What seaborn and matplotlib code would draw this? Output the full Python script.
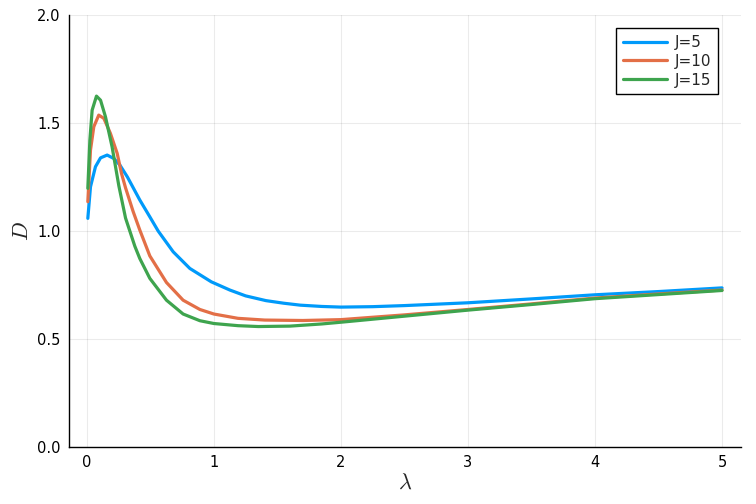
import matplotlib
matplotlib.use("Agg")
import matplotlib.pyplot as plt
import seaborn as sns
import pandas as pd

x_j5 = [0.008, 0.029, 0.068, 0.108, 0.16, 0.213, 0.26, 0.32, 0.417, 0.496, 0.562, 0.68, 0.811, 0.98, 1.126, 1.25, 1.41, 1.55, 1.68, 1.85, 2.0, 2.25, 2.5, 3.0, 3.5, 4.0, 4.5, 5.0]
y_j5 = [1.059, 1.205, 1.298, 1.339, 1.352, 1.336, 1.306, 1.25, 1.144, 1.066, 1.0, 0.904, 0.827, 0.765, 0.727, 0.700, 0.678, 0.666, 0.657, 0.651, 0.648, 0.650, 0.655, 0.668, 0.686, 0.705, 0.720, 0.737]

x_j10 = [0.008, 0.029, 0.055, 0.094, 0.134, 0.186, 0.239, 0.273, 0.305, 0.365, 0.417, 0.496, 0.627, 0.758, 0.89, 1.0, 1.19, 1.4, 1.7, 2.0, 2.5, 3.0, 3.5, 4.0, 4.5, 5.0]
y_j10 = [1.136, 1.375, 1.483, 1.537, 1.522, 1.452, 1.36, 1.267, 1.20, 1.09, 1.005, 0.885, 0.762, 0.680, 0.637, 0.616, 0.596, 0.588, 0.586, 0.590, 0.612, 0.637, 0.663, 0.690, 0.709, 0.727]

x_j15 = [0.008, 0.024, 0.042, 0.076, 0.108, 0.147, 0.199, 0.252, 0.305, 0.378, 0.417, 0.496, 0.627, 0.758, 0.89, 1.0, 1.19, 1.35, 1.6, 1.85, 2.0, 2.5, 3.0, 3.5, 4.0, 4.5, 5.0]
y_j15 = [1.198, 1.421, 1.56, 1.625, 1.606, 1.529, 1.39, 1.21, 1.06, 0.93, 0.873, 0.781, 0.68, 0.616, 0.585, 0.572, 0.562, 0.558, 0.560, 0.570, 0.578, 0.606, 0.634, 0.660, 0.687, 0.706, 0.725]

labels = ["J=5", "J=10", "J=15"]
colors = ["#009AFA", "#E36F47", "#3EA44E"]
x_ticks = [0, 1, 2, 3, 4, 5]
y_ticks = [0.0, 0.5, 1.0, 1.5, 2.0]

frames = []
for lab, xs, ys in zip(labels, [x_j5, x_j10, x_j15], [y_j5, y_j10, y_j15]):
    frames.append(pd.DataFrame({"x": xs, "y": ys, "series": lab}))
df = pd.concat(frames, ignore_index=True)

sns.set_style("white")
plt.rcParams["mathtext.fontset"] = "cm"
fig = plt.figure(figsize=(7.56, 5.04), dpi=100)
ax = fig.add_axes([0.0913, 0.113, 0.889, 0.857])

sns.lineplot(data=df, x="x", y="y", hue="series", hue_order=labels,
             palette=colors, linewidth=2.3, sort=False, estimator=None, ax=ax)
for line in ax.get_lines():
    line.set_solid_joinstyle("round")

ax.set_xlim(-0.14, 5.15)
ax.set_ylim(0, 2.0)
ax.set_xticks(x_ticks)
ax.set_yticks(y_ticks)
ax.set_yticklabels([f"{v:.1f}" for v in y_ticks])
ax.grid(True, color="#000000", alpha=0.08, linewidth=0.8)
ax.tick_params(direction="in", length=4, width=1, colors="black", labelsize=10.5, pad=6)
for s in ["top", "right"]:
    ax.spines[s].set_visible(False)
for s in ["left", "bottom"]:
    ax.spines[s].set_color("black")
    ax.spines[s].set_linewidth(1.0)
ax.set_xlabel(r"$\lambda$", fontsize=16, labelpad=2)
ax.set_ylabel(r"$D$", fontsize=16, labelpad=4)

leg = ax.legend(loc="upper right", bbox_to_anchor=(0.966, 0.970), borderaxespad=0,
                fontsize=11, frameon=True, fancybox=False, edgecolor="black", framealpha=1,
                handlelength=2.9, borderpad=0.45, labelspacing=0.25, handletextpad=0.5)
leg.get_frame().set_linewidth(1.0)

fig.savefig("out.png", dpi=100)
